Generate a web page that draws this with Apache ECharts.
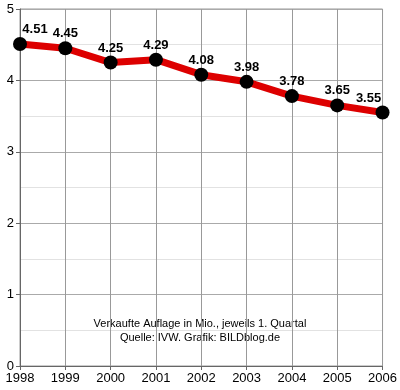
<!DOCTYPE html>
<html><head><meta charset="utf-8">
<script src="https://cdn.jsdelivr.net/npm/echarts@6/dist/echarts.min.js"></script>
<style>html,body{margin:0;padding:0;background:#fff}#c{width:400px;height:390px}</style>
</head><body><div id="c"></div>
<script>
const years = ['1998','1999','2000','2001','2002','2003','2004','2005','2006'];
const values = [4.51, 4.45, 4.25, 4.29, 4.08, 3.98, 3.78, 3.65, 3.55];
const yTicks = [0, 1, 2, 3, 4, 5];
const noteLines = ['Verkaufte Auflage in Mio., jeweils 1. Quartal', 'Quelle: IVW. Grafik: BILDblog.de'];

const chart = echarts.init(document.getElementById('c'), null, {renderer: 'canvas'});
const font = 'Liberation Sans, Arial, sans-serif';
const last = values.length - 1;
chart.setOption({
  animation: false,
  backgroundColor: '#fff',
  grid: {left: 20, right: 15, top: 9, bottom: 24, show: true, borderColor: '#999', borderWidth: 1},
  xAxis: {
    type: 'category', data: years, boundaryGap: false,
    axisLine: {lineStyle: {color: '#666', width: 1}},
    axisTick: {show: true, length: 4, lineStyle: {color: '#666'}},
    axisLabel: {color: '#000', fontSize: 13, fontFamily: font, margin: 6},
    splitLine: {show: true, lineStyle: {color: '#999', width: 1}}
  },
  yAxis: {
    type: 'value', min: yTicks[0], max: yTicks[yTicks.length - 1], interval: 1,
    axisLine: {show: true, lineStyle: {color: '#666', width: 1}},
    axisTick: {show: true, length: 4, lineStyle: {color: '#666'}},
    axisLabel: {color: '#000', fontSize: 13, fontFamily: font, margin: 6},
    splitLine: {show: true, lineStyle: {color: '#aaa', width: 1}},
    minorTick: {show: false, splitNumber: 2},
    minorSplitLine: {show: true, lineStyle: {color: '#e2e2e2', width: 1}}
  },
  graphic: [{
    type: 'text', x: 200, y: 317,
    style: {text: noteLines.join('\n'), font: '11px ' + font, fill: '#000', align: 'center', lineHeight: 14}
  }],
  series: [{
    type: 'line',
    data: values.map((v, i) => i === 0 ? {value: v, label: {offset: [15, 0]}}
                              : i === last ? {value: v, label: {offset: [-14, 0]}} : v),
    lineStyle: {color: '#dd0000', width: 7},
    itemStyle: {color: '#000'},
    symbol: 'circle', symbolSize: 14, showAllSymbol: true,
    z: 5,
    label: {show: true, position: 'top', distance: 1, color: '#000', fontSize: 13, fontWeight: 'bold', fontFamily: font,
      formatter: p => Number(p.value).toFixed(2)}
  }]
});
</script></body></html>
